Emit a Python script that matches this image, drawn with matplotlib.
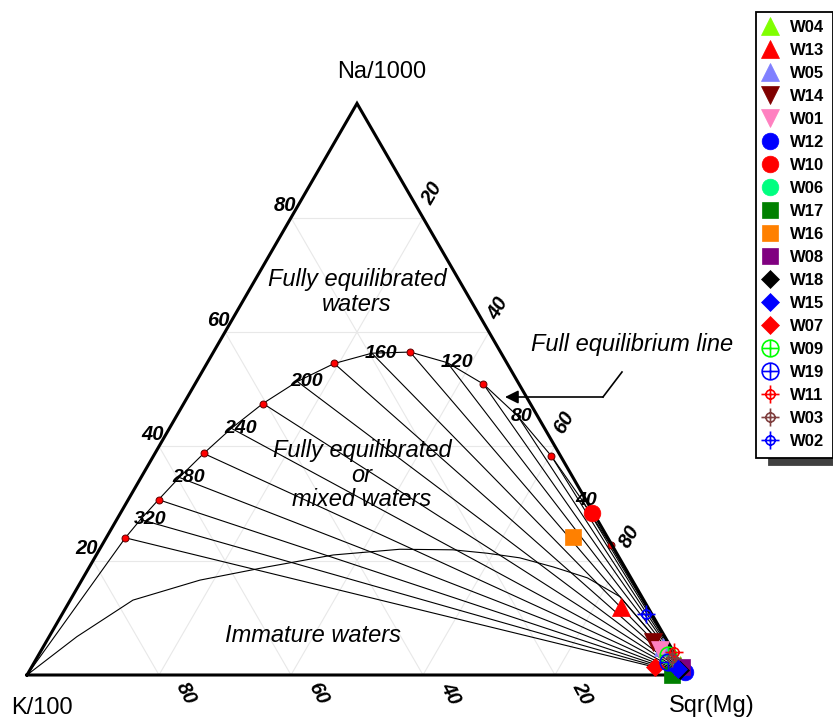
import numpy as np
import matplotlib.pyplot as plt
from matplotlib.path import Path

plt.rcParams['font.family'] = ['Liberation Sans', 'DejaVu Sans']

# Giggenbach Na-K-Mg diagram, fractions of Na/1000, K/100, Sqr(Mg)
# full equilibrium line, one point every 20 C
eq_temp = [20, 40, 60, 80, 100, 120, 140, 160, 180, 200, 220, 240, 260, 280, 300, 320, 340]
eq_na = [0.227, 0.306, 0.383, 0.453, 0.509, 0.547, 0.565, 0.563, 0.545, 0.514, 0.475, 0.432, 0.388, 0.346, 0.307, 0.272, 0.240]
eq_k = [0.002, 0.006, 0.014, 0.030, 0.054, 0.090, 0.137, 0.196, 0.262, 0.334, 0.405, 0.475, 0.539, 0.597, 0.648, 0.692, 0.731]
eq_mg = [0.771, 0.688, 0.602, 0.517, 0.437, 0.364, 0.298, 0.241, 0.193, 0.153, 0.120, 0.094, 0.074, 0.058, 0.046, 0.036, 0.029]
dot_temps = [20, 60, 100, 140, 180, 220, 260, 300, 340]
label_temps = [40, 80, 120, 160, 200, 240, 280, 320]

# immature / partial equilibrium boundary
imm_na = [0.0, 0.067, 0.131, 0.166, 0.189, 0.210, 0.220, 0.219, 0.213, 0.205, 0.189, 0.170, 0.137, 0.0]
imm_k = [1.0, 0.891, 0.774, 0.655, 0.542, 0.431, 0.325, 0.245, 0.196, 0.151, 0.108, 0.066, 0.033, 0.0]
imm_mg = [0.0, 0.042, 0.095, 0.179, 0.269, 0.359, 0.455, 0.536, 0.591, 0.644, 0.703, 0.764, 0.830, 1.0]

# samples
names = ['W04', 'W13', 'W05', 'W14', 'W01', 'W12', 'W10', 'W06', 'W17', 'W16',
         'W08', 'W18', 'W15', 'W07', 'W09', 'W19', 'W11', 'W03', 'W02']
s_na = [0.018, 0.119, 0.049, 0.058, 0.044, 0.005, 0.283, 0.012, 0.000, 0.241,
        0.014, 0.009, 0.010, 0.014, 0.035, 0.023, 0.040, 0.030, 0.107]
s_k = [0.002, 0.040, 0.012, 0.023, 0.019, 0.000, 0.003, 0.004, 0.023, 0.052,
       0.000, 0.006, 0.008, 0.042, 0.011, 0.017, 0.000, 0.008, 0.009]
s_mg = [0.980, 0.841, 0.939, 0.919, 0.937, 0.995, 0.714, 0.984, 0.977, 0.707,
        0.986, 0.985, 0.982, 0.944, 0.954, 0.960, 0.960, 0.962, 0.884]

circ = Path.unit_circle()
cross = Path([(-1, 0), (1, 0), (0, -1), (0, 1)],
             [Path.MOVETO, Path.LINETO, Path.MOVETO, Path.LINETO])
circle_plus = Path.make_compound_path(circ, cross)
crosshair = Path.make_compound_path(Path(circ.vertices * 0.5, circ.codes), cross)

styles = {
    'W04': ('^', '#80ff00', 13), 'W13': ('^', '#ff0000', 13), 'W05': ('^', '#8080ff', 13),
    'W14': ('v', '#800000', 13), 'W01': ('v', '#ff80c0', 13),
    'W12': ('o', '#0000ff', 12), 'W10': ('o', '#ff0000', 12), 'W06': ('o', '#00ff80', 12),
    'W17': ('s', '#008000', 11), 'W16': ('s', '#ff8000', 11), 'W08': ('s', '#800080', 11),
    'W18': ('D', '#000000', 9), 'W15': ('D', '#0000ff', 9), 'W07': ('D', '#ff0000', 9),
    'W09': (circle_plus, '#00ff00', 12), 'W19': (circle_plus, '#0000ff', 12),
    'W11': (crosshair, '#ff0000', 13), 'W03': (crosshair, '#804040', 13),
    'W02': (crosshair, '#0000ff', 13),
}


def tern(na, k, mg):
    na, k, mg = np.asarray(na, float), np.asarray(k, float), np.asarray(mg, float)
    s = na + k + mg
    return mg / s + na / s / 2, na / s * np.sqrt(3) / 2


def px(x, y):
    # reference pixel -> data coords (used only for text / annotation placement)
    return (x - 27) / 660, (675 - y) / 660


fig = plt.figure(figsize=(8.33, 7.22), dpi=100)
ax = fig.add_axes([0, 0, 1, 1])
ax.set_xlim(-27 / 660, 806 / 660)
ax.set_ylim(-47 / 660, 675 / 660)
ax.axis('off')

# faint grid
for v in [0.2, 0.4, 0.6, 0.8]:
    for a, b in [((v, 1 - v, 0), (v, 0, 1 - v)),
                 ((1 - v, 0, v), (0, 1 - v, v)),
                 ((1 - v, v, 0), (0, v, 1 - v))]:
        gx, gy = tern(*zip(a, b))
        ax.plot(gx, gy, color='#e8e8e8', lw=0.8, zorder=1)

# triangle
tx, ty = tern([0, 0, 1, 0], [1, 0, 0, 1], [0, 1, 0, 0])
ax.plot(tx, ty, color='black', lw=2.2, zorder=5, solid_joinstyle='miter')

# tie lines to Mg vertex
for na, k, mg in zip(eq_na, eq_k, eq_mg):
    lx, ly = tern([na, 0], [k, 0], [mg, 1])
    ax.plot(lx, ly, color='black', lw=0.8, zorder=3)

# full equilibrium curve, closed to the K vertex
cx, cy = tern(eq_na + [0.0], eq_k + [1.0], eq_mg + [0.0])
ax.plot(cx, cy, color='black', lw=0.8, zorder=3)

# immature waters boundary
ix, iy = tern(imm_na, imm_k, imm_mg)
ax.plot(ix, iy, color='black', lw=0.8, zorder=3)

# temperature dots and labels
idx = [eq_temp.index(t) for t in dot_temps]
dx, dy = tern([eq_na[i] for i in idx], [eq_k[i] for i in idx], [eq_mg[i] for i in idx])
ax.plot(dx, dy, 'o', ms=5, mfc='#ff0000', mec='#600000', mew=0.7, ls='none', zorder=4)
for t in label_temps:
    i = eq_temp.index(t)
    lx, ly = tern(eq_na[i], eq_k[i], eq_mg[i])
    ax.annotate(str(t), (lx, ly), xytext=(-7, 0), textcoords='offset pixels',
                ha='left', va='center', fontsize=14, fontweight='bold',
                fontstyle='italic', zorder=6)

# samples
for n, na, k, mg in zip(names, s_na, s_k, s_mg):
    m, c, ms = styles[n]
    x, y = tern(na, k, mg)
    if isinstance(m, Path):
        ax.plot(x, y, marker=m, ms=ms, mfc='none', mec=c, mew=1.2, ls='none',
                label=n, zorder=7)
    else:
        ax.plot(x, y, marker=m, ms=ms, mfc=c, mec=c, mew=0.5, ls='none',
                label=n, zorder=7)

# axis tick labels
tick_vals = [20, 40, 60, 80]
for v in tick_vals:
    f = v / 100
    # Na on the left edge
    x, y = tern(f, 1 - f, 0)
    ax.annotate(str(v), (x, y), xytext=(5, 12), textcoords='offset pixels',
                ha='right', va='center', fontsize=14.5, fontweight='bold', fontstyle='italic')
    # Sqr(Mg) on the right edge
    x, y = tern(1 - f, 0, f)
    ax.annotate(str(v), (x, y), xytext=(9, 24), textcoords='offset pixels',
                ha='center', va='center', rotation=60, fontsize=14.5,
                fontweight='bold', fontstyle='italic')
    # K on the base
    x, y = tern(0, f, 1 - f)
    ax.annotate(str(v), (x, y), xytext=(27, -18), textcoords='offset pixels',
                ha='center', va='center', rotation=-62, fontsize=14.5,
                fontweight='bold', fontstyle='italic')

# vertex names
ax.text(*px(382, 72), 'Na/1000', ha='center', va='center', fontsize=17)
ax.text(*px(42, 708), 'K/100', ha='center', va='center', fontsize=17)
ax.text(*px(712, 706), 'Sqr(Mg)', ha='center', va='center', fontsize=17)

# field names
ax.text(*px(357, 292), 'Fully equilibrated\nwaters', ha='center', va='center',
        fontsize=17, fontstyle='italic', linespacing=1.1)
ax.text(*px(362, 475), 'Fully equilibrated\nor\nmixed waters', ha='center',
        va='center', fontsize=17, fontstyle='italic', linespacing=1.1)
ax.text(*px(313, 635), 'Immature waters', ha='center', va='center',
        fontsize=17, fontstyle='italic')
ax.text(*px(632, 345), 'Full equilibrium line', ha='center', va='center',
        fontsize=17, fontstyle='italic')

# arrow pointing at the curve
ax.plot(*zip(px(622, 372), px(603, 397)), color='black', lw=1.2)
ax.annotate('', xy=px(505, 397), xytext=px(603, 397),
            arrowprops=dict(arrowstyle='-|>', color='black', lw=1.2,
                            mutation_scale=20, shrinkA=0, shrinkB=0))

leg = ax.legend(loc='upper left', bbox_to_anchor=(756 / 833, 1 - 12 / 722),
                bbox_transform=fig.transFigure, borderaxespad=0, numpoints=1,
                fancybox=False, edgecolor='black', framealpha=1,
                prop={'weight': 'bold', 'size': 12}, labelspacing=0.48,
                borderpad=0.5, handlelength=0.7, handletextpad=0.85,
                shadow={'ox': 9, 'oy': -5, 'facecolor': '#404040',
                        'edgecolor': '#404040', 'alpha': 1})
leg.get_frame().set_linewidth(1.3)

fig.savefig('out.png', dpi=100)
